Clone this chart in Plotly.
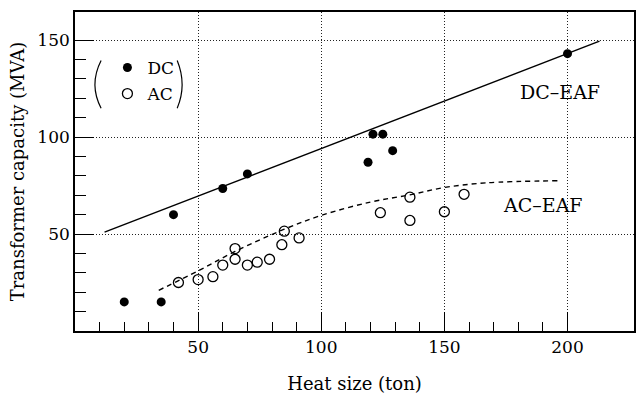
import plotly.graph_objects as go

# ---- data ----
dc_x = [20, 35, 40, 60, 70, 119, 121, 125, 129, 200]
dc_y = [15, 15, 60, 73.5, 81, 87, 101.5, 101.5, 93, 143]

ac_x = [42, 50, 56, 60, 65, 65, 70, 74, 79, 84, 85, 91, 124, 136, 136, 150, 158]
ac_y = [25, 26.5, 28, 34, 42.5, 37, 34, 35.5, 37, 44.5, 51.5, 48, 61, 69, 57, 61.5, 70.5]

dc_fit_x = [12, 213]
dc_fit_y = [51, 149.5]

ac_fit_x = [34, 50, 65, 85, 100, 120, 136, 150, 167, 197]
ac_fit_y = [21, 31, 41, 52.5, 59.6, 66.5, 70.2, 74, 76.4, 77.5]

x_ticks = [50, 100, 150, 200]
y_ticks = [50, 100, 150]
x_minor = [10, 20, 30, 40, 60, 70, 80, 90, 110, 120, 130, 140, 160, 170, 180, 190]
y_minor = [10, 20, 30, 40, 60, 70, 80, 90, 110, 120, 130, 140]

FONT = "DejaVu Serif"

fig = go.Figure()

fig.add_trace(go.Scatter(x=dc_fit_x, y=dc_fit_y, mode="lines",
                         line=dict(color="black", width=1.4), showlegend=False,
                         hoverinfo="skip"))
fig.add_trace(go.Scatter(x=ac_fit_x, y=ac_fit_y, mode="lines",
                         line=dict(color="black", width=1.4, dash="5px,4px", shape="spline"),
                         showlegend=False, hoverinfo="skip"))
fig.add_trace(go.Scatter(x=dc_x, y=dc_y, mode="markers", name="DC", legendgroup="dc",
                         marker=dict(symbol="circle", size=9, color="black")))
fig.add_trace(go.Scatter(x=ac_x, y=ac_y, mode="markers", name="AC", legendgroup="ac",
                         marker=dict(symbol="circle-open", size=10, color="black",
                                     line=dict(width=1.3))))

axis_common = dict(
    showline=True, linecolor="black", linewidth=1.6, mirror=True,
    ticks="inside", tickcolor="black", tickwidth=1.4, ticklen=19,
    showgrid=True, gridcolor="#222", gridwidth=1, griddash="1px,2px",
    zeroline=False, automargin=False,
    tickfont=dict(family=FONT, size=17, color="black"),
)

fig.update_xaxes(range=[0, 227], tickvals=x_ticks, **axis_common,
                 minor=dict(tickvals=x_minor, ticks="inside", ticklen=9,
                            tickcolor="black", tickwidth=1.3, showgrid=False),
                 title=dict(text="Heat size (ton)", font=dict(family=FONT, size=18, color="black"),
                            standoff=26))
fig.update_yaxes(range=[0, 164.5], tickvals=y_ticks, **axis_common,
                 minor=dict(tickvals=y_minor, ticks="inside", ticklen=11,
                            tickcolor="black", tickwidth=1.3, showgrid=False),
                 title=dict(text="Transformer capacity (MVA)",
                            font=dict(family=FONT, size=18, color="black"), standoff=8))

fig.add_annotation(x=197, y=123, text="DC–EAF", showarrow=False,
                   font=dict(family=FONT, size=19, color="black"))
fig.add_annotation(x=190, y=65, text="AC–EAF", showarrow=False,
                   font=dict(family=FONT, size=19, color="black"))

# parentheses around the legend
fig.add_shape(type="path", path="M 10.6,139.5 Q 5.6,127 10.6,114.9",
              line=dict(color="black", width=1.2))
fig.add_shape(type="path", path="M 41.5,139.5 Q 45.5,127 41.5,114.9",
              line=dict(color="black", width=1.2))

fig.update_layout(
    width=637, height=394, autosize=False,
    margin=dict(l=75, r=3, t=12, b=63),
    plot_bgcolor="white", paper_bgcolor="white",
    showlegend=True,
    legend=dict(x=0.058, y=0.881, xanchor="left", yanchor="top",
                bgcolor="rgba(0,0,0,0)", borderwidth=0,
                font=dict(family=FONT, size=17, color="black"),
                itemwidth=30, tracegroupgap=1),
)

fig.write_html("out.html", config={"displayModeBar": False},
               post_script="document.body.style.margin='0';document.body.style.padding='0';")
